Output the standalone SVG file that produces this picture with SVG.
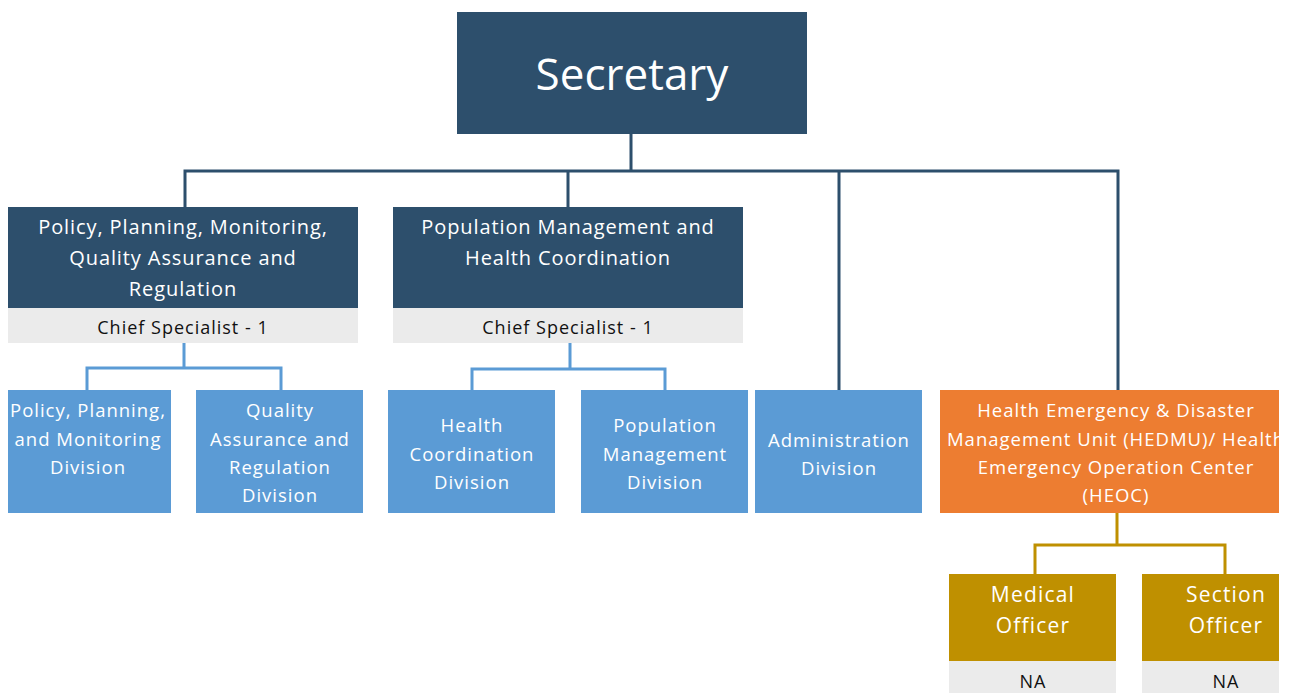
<svg xmlns="http://www.w3.org/2000/svg" width="1292" height="693" viewBox="0 0 1292 693">
<style>
text{font-family:"Open Sans","Noto Sans","DejaVu Sans",sans-serif;text-anchor:middle}
.w{fill:#ffffff}
.k{fill:#111111;font-size:18px;letter-spacing:1px}
.dark{fill:#2d4f6c}
.lb{fill:#5b9bd5}
.or{fill:#ed7d31}
.gd{fill:#bf9000}
.gr{fill:#ebebeb}
.l1{font-size:20px;letter-spacing:0.9px}
.l2{font-size:18.5px;letter-spacing:1px}
.g3{font-size:21px;letter-spacing:1.2px}
.cd{stroke:#2d4f6c;stroke-width:3;fill:none}
.cl{stroke:#5b9bd5;stroke-width:3;fill:none}
.cg{stroke:#bf9000;stroke-width:3;fill:none}
</style>
<defs>
<clipPath id="clipR"><rect x="0" y="0" width="1279" height="693"/></clipPath>
</defs>
<g id="connectors">
<path class="cd" d="M631 134V171M185 207V171H1118V390M568 171V207M839 171V390"/>
<path class="cl" d="M184 343V368M87 390V368H281V390"/>
<path class="cl" d="M570 343V369M472 390V369H665V390"/>
<path class="cg" d="M1117 513V545M1035 574V545H1225V574"/>
</g>
<g id="secretary">
<rect class="dark" x="457" y="12" width="350" height="122"/>
<text class="w" x="632" y="90" font-size="44">Secretary</text>
</g>
<g id="ppmqar">
<rect class="dark" x="8" y="207" width="350" height="101"/>
<rect class="gr" x="8" y="308" width="350" height="35"/>
<text class="w l1" x="183" y="234">Policy, Planning, Monitoring,</text>
<text class="w l1" x="183" y="265">Quality Assurance and</text>
<text class="w l1" x="183" y="296">Regulation</text>
<text class="k" x="183" y="334">Chief Specialist - 1</text>
</g>
<g id="pmhc">
<rect class="dark" x="393" y="207" width="350" height="101"/>
<rect class="gr" x="393" y="308" width="350" height="35"/>
<text class="w l1" x="568" y="234">Population Management and</text>
<text class="w l1" x="568" y="265">Health Coordination</text>
<text class="k" x="568" y="334">Chief Specialist - 1</text>
</g>
<g id="ppm-div">
<rect class="lb" x="8" y="390" width="163" height="123"/>
<text class="w l2" x="88" y="417">Policy, Planning,</text>
<text class="w l2" x="88" y="446">and Monitoring</text>
<text class="w l2" x="88" y="474">Division</text>
</g>
<g id="qar-div">
<rect class="lb" x="196" y="390" width="167" height="123"/>
<text class="w l2" x="280" y="417">Quality</text>
<text class="w l2" x="280" y="446">Assurance and</text>
<text class="w l2" x="280" y="474">Regulation</text>
<text class="w l2" x="280" y="502">Division</text>
</g>
<g id="hc-div">
<rect class="lb" x="388" y="390" width="167" height="123"/>
<text class="w l2" x="472" y="432">Health</text>
<text class="w l2" x="472" y="461">Coordination</text>
<text class="w l2" x="472" y="489">Division</text>
</g>
<g id="pm-div">
<rect class="lb" x="581" y="390" width="167" height="123"/>
<text class="w l2" x="665" y="432">Population</text>
<text class="w l2" x="665" y="461">Management</text>
<text class="w l2" x="665" y="489">Division</text>
</g>
<g id="admin-div">
<rect class="lb" x="755" y="390" width="167" height="123"/>
<text class="w l2" x="839" y="447">Administration</text>
<text class="w l2" x="839" y="475">Division</text>
</g>
<g id="hedmu" clip-path="url(#clipR)">
<rect class="or" x="940" y="390" width="339" height="123"/>
<text class="w l2" x="1116" y="417">Health Emergency &amp; Disaster</text>
<text class="w l2" x="1116" y="446">Management Unit (HEDMU)/ Health</text>
<text class="w l2" x="1116" y="474">Emergency Operation Center</text>
<text class="w l2" x="1116" y="502">(HEOC)</text>
</g>
<g id="medical-officer">
<rect class="gd" x="949" y="574" width="167" height="87"/>
<rect class="gr" x="949" y="661" width="167" height="32"/>
<text class="w g3" x="1033" y="602">Medical</text>
<text class="w g3" x="1033" y="633">Officer</text>
<text class="k" x="1033" y="688">NA</text>
</g>
<g id="section-officer" clip-path="url(#clipR)">
<rect class="gd" x="1142" y="574" width="137" height="87"/>
<rect class="gr" x="1142" y="661" width="137" height="32"/>
<text class="w g3" x="1226" y="602">Section</text>
<text class="w g3" x="1226" y="633">Officer</text>
<text class="k" x="1226" y="688">NA</text>
</g>
</svg>
